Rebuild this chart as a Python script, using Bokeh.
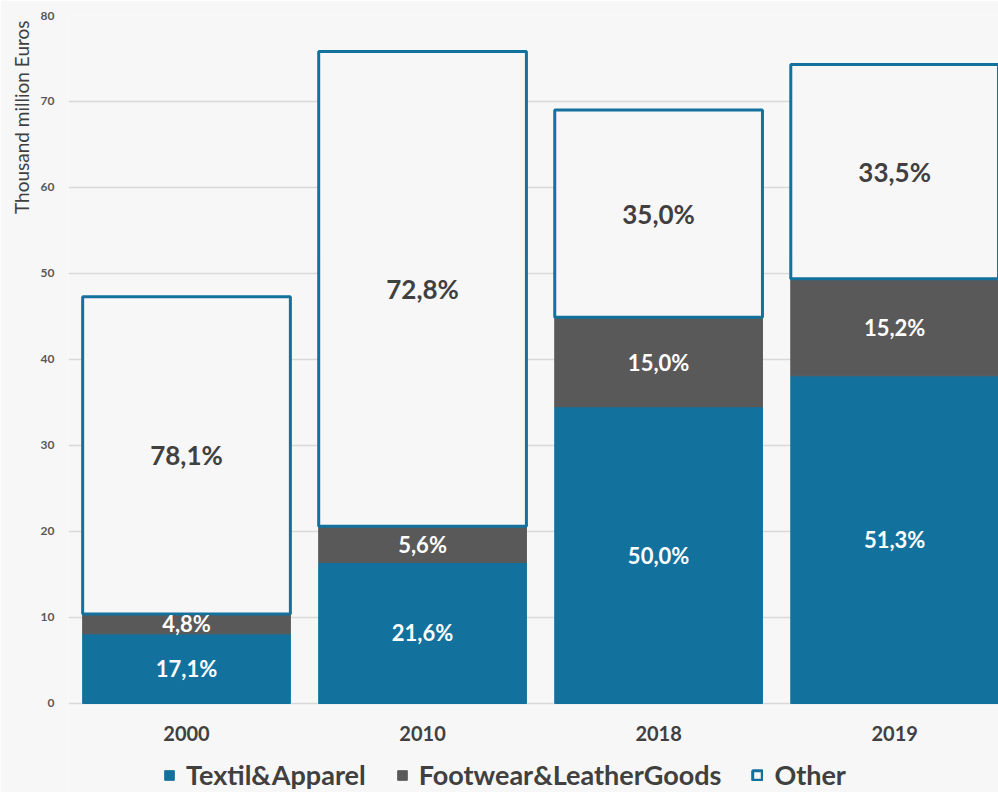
from bokeh.plotting import figure
from bokeh.models import ColumnDataSource, Range1d, FixedTicker, Legend, LegendItem, Title
from bokeh.core.properties import value
from bokeh.embed import file_html
from bokeh.resources import INLINE

years = ["2000", "2010", "2018", "2019"]
textil = [8.1, 16.4, 34.5, 38.1]
footwear = [2.3, 4.2, 10.4, 11.3]
other = [36.9, 55.2, 24.1, 24.9]
textil_pct = ["17,1%", "21,6%", "50,0%", "51,3%"]
footwear_pct = ["4,8%", "5,6%", "15,0%", "15,2%"]
other_pct = ["78,1%", "72,8%", "35,0%", "33,5%"]
y_ticks = [0, 10, 20, 30, 40, 50, 60, 70, 80]

BLUE = "#13719e"
GRAY = "#595959"
BG = "#f7f7f7"
TXT = "#404040"
FONT = "Lato"

xs = list(range(len(years)))
t_top = textil
f_bot = textil
f_top = [a + b for a, b in zip(textil, footwear)]
o_bot = f_top
o_top = [a + b for a, b in zip(f_top, other)]

src = ColumnDataSource(dict(
    x=xs, t_top=t_top, f_bot=f_bot, f_top=f_top, o_bot=o_bot, o_top=o_top,
    t_mid=[t / 2 for t in t_top],
    f_mid=[(a + b) / 2 for a, b in zip(f_bot, f_top)],
    o_mid=[(a + b) / 2 for a, b in zip(o_bot, o_top)],
    t_lab=textil_pct, f_lab=footwear_pct, o_lab=other_pct,
    base=[0] * len(xs), year=years,
))

# frame extends below 0 so the category labels and legend sit inside it
p = figure(width=998, height=792, output_backend="svg", toolbar_location=None,
           x_range=Range1d(-0.5, 3.44), y_range=Range1d(-10.35, 80),
           min_border_left=68, min_border_right=0, min_border_top=15, min_border_bottom=0)
p.background_fill_color = BG
p.border_fill_color = BG
p.outline_line_color = None

bw = 0.88
r1 = p.vbar(x="x", bottom=0, top="t_top", width=bw, source=src, fill_color=BLUE, line_color=BLUE)
r2 = p.vbar(x="x", bottom="f_bot", top="f_top", width=bw, source=src, fill_color=GRAY, line_color=GRAY)
r3 = p.vbar(x="x", bottom="o_bot", top="o_top", width=bw, source=src, fill_color=BG,
            line_color=BLUE, line_width=3)

p.text(x="x", y="t_mid", text="t_lab", source=src, text_align="center", text_baseline="middle",
       text_font=value(FONT), text_font_style="bold", text_font_size="22px", text_color="white")
p.text(x="x", y="f_mid", text="f_lab", source=src, text_align="center", text_baseline="middle",
       text_font=value(FONT), text_font_style="bold", text_font_size="22px", text_color="white")
p.text(x="x", y="o_mid", text="o_lab", source=src, text_align="center", text_baseline="middle",
       text_font=value(FONT), text_font_style="bold", text_font_size="26px", text_color=TXT)

# category labels under the zero line
p.text(x="x", y="base", text="year", source=src, y_offset=30, text_align="center",
       text_baseline="middle", text_font=value(FONT), text_font_style="bold",
       text_font_size="20px", text_color=TXT)

# axes
p.xaxis.visible = False
p.xgrid.grid_line_color = None
p.ygrid.grid_line_color = "#d9d9d9"
p.ygrid.grid_line_width = 1.5
p.yaxis.ticker = FixedTicker(ticks=y_ticks)
p.yaxis.axis_line_color = None
p.yaxis.major_tick_line_color = None
p.yaxis.minor_tick_line_color = None
p.yaxis.major_label_standoff = 8
p.yaxis.major_label_text_font = FONT
p.yaxis.major_label_text_font_style = "bold"
p.yaxis.major_label_text_font_size = "12px"
p.yaxis.major_label_text_color = GRAY

p.add_layout(Title(text="Thousand million Euros", align="right", offset=5, text_font=FONT,
                   text_font_style="normal", text_font_size="19px", text_color=TXT), "left")

legend = Legend(items=[LegendItem(label="Textil&Apparel", renderers=[r1]),
                       LegendItem(label="Footwear&LeatherGoods", renderers=[r2]),
                       LegendItem(label="Other", renderers=[r3])],
                orientation="horizontal", location=(95, 1))
legend.background_fill_alpha = 0
legend.border_line_color = None
legend.label_text_font = FONT
legend.label_text_font_style = "bold"
legend.label_text_font_size = "27px"
legend.label_text_color = TXT
legend.glyph_width = 12
legend.glyph_height = 12
legend.label_standoff = 11
legend.spacing = 30
legend.padding = 4
legend.margin = 0
p.add_layout(legend)

open("out.html", "w").write(file_html(p, INLINE))
